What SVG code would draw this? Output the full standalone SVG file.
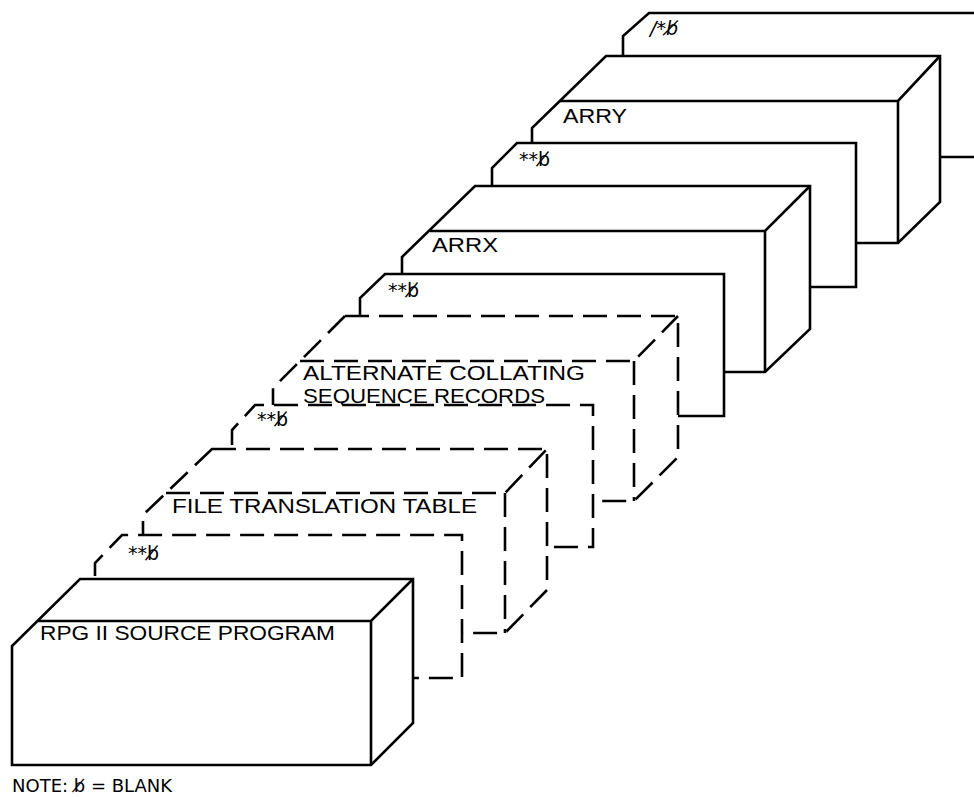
<svg xmlns="http://www.w3.org/2000/svg" width="974" height="797" viewBox="0 0 974 797">
<style>
.s{fill:#fff;stroke:#000;stroke-width:2.6;stroke-linejoin:miter}
.e{fill:none;stroke:#000;stroke-width:2.6}
.d{stroke-dasharray:24 10}
.t{font-family:"Liberation Sans","DejaVu Sans",sans-serif;font-size:20px;fill:#000}
.k{font-family:"DejaVu Sans",sans-serif;font-size:19px;fill:#000}
.n{font-family:"DejaVu Sans",sans-serif;font-size:18px;fill:#000}
</style>
<rect width="974" height="797" fill="#fff"/>
<g id="card-slash-star">
<path class="s" d="M623,157 V36 L649,13 H990 V157 Z"/>
<text class="k" x="650" y="35" font-style="italic">/*b̸</text>
</g>
<g id="box-arry">
<path class="s" d="M606,56 H940 V202 L898,243 H532 V128 Z"/>
<path class="e" d="M560,101 H898 L940,56 M898,101 V243"/>
<text class="t" x="563" y="123" textLength="64" lengthAdjust="spacingAndGlyphs">ARRY</text>
</g>
<g id="card-blank-1">
<path class="s" d="M492,287 V168 L517,143 H856 V287 Z"/>
<text class="k" x="519" y="166">**b̸</text>
</g>
<g id="box-arrx">
<path class="s" d="M475,186 H810 V329 L765,372 H402 V257 Z"/>
<path class="e" d="M430,231 H765 L810,186 M765,231 V372"/>
<text class="t" x="432" y="252" textLength="66" lengthAdjust="spacingAndGlyphs">ARRX</text>
</g>
<g id="card-blank-2">
<path class="s" d="M360,416 V298 L385,274 H724 V416 Z"/>
<text class="k" x="388" y="297">**b̸</text>
</g>
<g id="box-alternate-collating">
<path class="s d" d="M345,316 H678 V457 L634,501 H273 V388 Z"/>
<path class="e d" d="M300,361 H634 L678,316 M634,361 V501"/>
<text class="t" x="303" y="380" textLength="282" lengthAdjust="spacingAndGlyphs">ALTERNATE COLLATING</text>
<text class="t" x="303" y="403" textLength="242" lengthAdjust="spacingAndGlyphs">SEQUENCE RECORDS</text>
</g>
<g id="card-blank-3">
<path class="s d" d="M232,547 V430 L255,405 H593 V547 Z"/>
<text class="k" x="257" y="426">**b̸</text>
</g>
<g id="box-file-translation">
<path class="s d" d="M212,449 H547 V590 L505,633 H143 V515 Z"/>
<path class="e d" d="M166,493 H505 L547,449 M505,493 V633"/>
<text class="t" x="172" y="513" textLength="305" lengthAdjust="spacingAndGlyphs">FILE TRANSLATION TABLE</text>
</g>
<g id="card-blank-4">
<path class="s d" d="M95,678 V563 L122,535 H462 V678 Z"/>
<text class="k" x="128" y="560">**b̸</text>
</g>
<g id="box-rpg-source">
<path class="s" d="M80,579 H413 V723 L371,765 H12 V646 Z"/>
<path class="e" d="M38,621 H371 L413,579 M371,621 V765"/>
<text class="t" x="40" y="640" textLength="295" lengthAdjust="spacingAndGlyphs">RPG II SOURCE PROGRAM</text>
</g>
<g id="note">
<text class="n" x="12" y="792">NOTE:  b̸ = BLANK</text>
</g>
<g id="connectors"/>
</svg>
